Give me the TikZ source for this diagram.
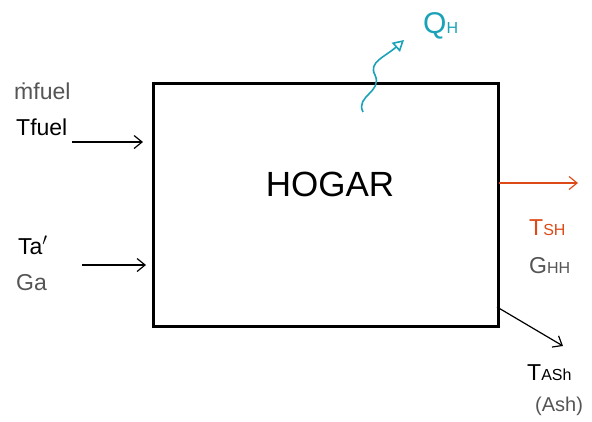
\documentclass[tikz,border=0pt]{standalone}
\usepackage{fontspec}
\setmainfont{Liberation Sans}
\usetikzlibrary{arrows.meta}
\definecolor{teal1}{HTML}{1AA3B8}
\definecolor{orng}{HTML}{DD4A17}
\definecolor{grey1}{HTML}{555555}
\begin{document}
\begin{tikzpicture}[x=1pt,y=-1pt,
  lab/.style={inner sep=0pt,font=\fontsize{23}{25}\selectfont},
  glab/.style={lab,text=grey1},
  flow/.style={line width=1.2pt,-{Straight Barb[length=8pt,width=13pt,line width=1.2pt]}}]
\useasboundingbox[fill=white] (0,0) rectangle (592,421);
\node[draw,line width=2.6pt,minimum width=345pt,minimum height=243pt,anchor=north west,inner sep=0pt] (box) at (152,82) {};
\node[lab,font=\fontsize{35}{37}\selectfont] (title) at (330,184) {HOGAR};
% fuel
\node[glab,anchor=west] (mf) at (14,91) {ṁfuel};
\node[lab,anchor=west] (tf) at (16,127) {Tfuel};
\coordinate (f0) at (72,142);
\coordinate (f1) at (143,142);
\draw[flow] (f0) -- (f1);
% air
\node[lab,anchor=west] (ta) at (18,245) {Ta$'$};
\node[glab,anchor=west] (ga) at (16,283) {Ga};
\coordinate (a0) at (82,265);
\coordinate (a1) at (146,265);
\draw[flow] (a0) -- (a1);
% output gases
\coordinate (o0) at (499,183);
\coordinate (o1) at (578,183);
\draw[flow,draw=orng] (o0) -- (o1);
\node[lab,text=orng,anchor=west] (tsh) at (529,228) {T{\fontsize{16}{17}\selectfont SH}};
\node[glab,anchor=west] (ghh) at (529,266) {G{\fontsize{16}{17}\selectfont HH}};
% ash
\coordinate (s0) at (497,307);
\coordinate (s1) at (563,346);
\draw[flow] (s0) -- (s1);
\node[lab,anchor=west] (tash) at (527,373) {T{\fontsize{16}{17}\selectfont ASh}};
\node[glab,anchor=west,font=\fontsize{20}{21}\selectfont] (ash) at (535,406) {(Ash)};
% heat
\node[lab,text=teal1,anchor=west,font=\fontsize{30}{32}\selectfont] (qh) at (423,26) {Q{\fontsize{16}{17}\selectfont H}};
\coordinate (h0) at (363,112);
\coordinate (h1) at (404,40);
\draw[teal1,line width=1.6pt,-{Triangle[open,length=11pt,width=12pt,line width=1.6pt]}]
  (h0) .. controls (355,96) and (383,92) .. (375,75)
  .. controls (368,62) and (385,57) .. (h1);
\end{tikzpicture}
\end{document}
